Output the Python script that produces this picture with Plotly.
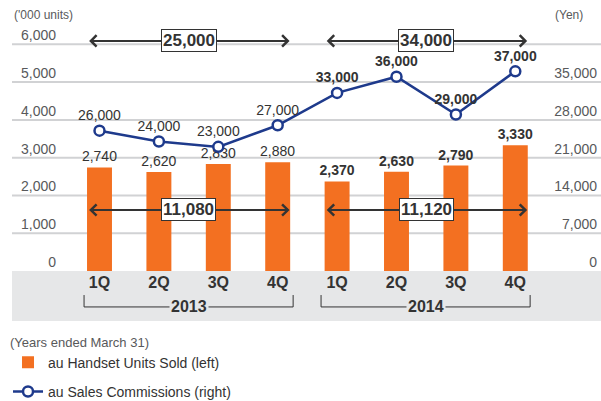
import plotly.graph_objects as go

# data
quarters = ["1Q", "2Q", "3Q", "4Q", "1Q", "2Q", "3Q", "4Q"]
years = ["2013", "2014"]
units_sold = [2740, 2620, 2830, 2880, 2370, 2630, 2790, 3330]          # '000 units
commissions = [26000, 24000, 23000, 27000, 33000, 36000, 29000, 37000]  # yen
annual_units = [11080, 11120]
annual_commissions = [25000, 34000]
left_ticks = [0, 1000, 2000, 3000, 4000, 5000, 6000]
right_ticks = [0, 7000, 14000, 21000, 28000, 35000, 42000]

ORANGE = "#F37021"
NAVY = "#1E3A8C"
FONT = "Liberation Sans"

xpos = list(range(len(quarters)))
bold_from = 4  # second year is printed bold


def fmt(vals):
    return [f"<b>{v:,}</b>" if i >= bold_from else f"{v:,}" for i, v in enumerate(vals)]


fig = go.Figure()

fig.add_trace(go.Bar(
    x=xpos, y=units_sold, name="au Handset Units Sold (left)",
    marker=dict(color=ORANGE, line=dict(width=0)), width=0.42,
    text=fmt(units_sold), textposition="outside", cliponaxis=False, constraintext="none",
    textfont=dict(family=FONT, size=14, color="#333333"),
    legendgroup="a",
))

fig.add_trace(go.Scatter(
    x=xpos, y=commissions, yaxis="y2", name="au Sales Commissions (right)",
    mode="lines+markers+text",
    line=dict(color=NAVY, width=2.5),
    marker=dict(symbol="circle", size=10, color="white", line=dict(color=NAVY, width=2.5)),
    text=fmt(commissions), textposition="top center", cliponaxis=False,
    textfont=dict(family=FONT, size=14, color="#333333"),
    legendgroup="b",
))

shapes = []
# grey band behind the category labels
shapes.append(dict(type="rect", xref="paper", yref="paper", x0=-0.0887, x1=1.0, y0=-0.21, y1=0,
                   fillcolor="#E6E7E8", line=dict(width=0), layer="below"))
# gridlines that run under the tick labels
for t in left_ticks[1:]:
    shapes.append(dict(type="line", xref="paper", yref="y", x0=-0.0887, x1=1.0, y0=t, y1=t,
                       line=dict(color="#D1D2D4", width=2), layer="below"))
# year brackets
for x0, x1 in [(-0.26, 3.26), (3.73, 7.25)]:
    shapes.append(dict(type="path", xref="x", yref="paper",
                       path=f"M {x0},-0.101 L {x0},-0.151 L {x1},-0.151 L {x1},-0.101",
                       line=dict(color="#333333", width=1)))

annotations = []
for i, yr in enumerate(years):
    annotations.append(dict(x=1.5 + 4 * i, y=-0.151, xref="x", yref="paper", text=f"<b>{yr}</b>",
                            xanchor="center", yanchor="middle",
                            showarrow=False, bgcolor="#E6E7E8", borderpad=1,
                            font=dict(family=FONT, size=16, color="#333333")))

# double arrows with annual totals
for i in range(len(years)):
    x0, x1 = -0.2 + 4 * i, 3.2 + 4 * i
    for level, val in [(6090, annual_commissions[i]), (1615, annual_units[i])]:
        annotations.append(dict(x=x1, y=level, ax=x0, ay=level, xref="x", yref="y",
                                axref="x", ayref="y", text="", showarrow=True,
                                arrowhead=4, startarrowhead=4, arrowside="end+start",
                                arrowsize=1.1, startarrowsize=1.1, arrowwidth=2,
                                arrowcolor="#333333", standoff=0, startstandoff=0))
        annotations.append(dict(x=(x0 + x1) / 2, y=level, xref="x", yref="y",
                                text=f"<b>{val:,}</b>", showarrow=False,
                                xanchor="center", yanchor="middle",
                                bgcolor="white", bordercolor="#333333", borderwidth=1, borderpad=1,
                                font=dict(family=FONT, size=17, color="#333333")))

annotations.append(dict(x=-0.0887, y=1.0756, xref="paper", yref="paper", xanchor="left",
                        yanchor="middle", text="('000 units)", showarrow=False,
                        font=dict(family=FONT, size=12, color="#58595B")))
annotations.append(dict(x=0.911, y=1.0756, xref="paper", yref="paper", xanchor="left",
                        yanchor="middle", text="(Yen)", showarrow=False,
                        font=dict(family=FONT, size=12, color="#58595B")))

fig.update_layout(
    width=601, height=401,
    margin=dict(l=60, r=0, t=33, b=130, autoexpand=False),
    paper_bgcolor="white", plot_bgcolor="rgba(0,0,0,0)",
    font=dict(family=FONT, color="#333333"),
    xaxis=dict(range=[-0.665, 8.443], tickvals=xpos, ticktext=[f"<b>{q}</b>" for q in quarters],
               showgrid=False, zeroline=False, showline=False, ticks="", automargin=False,
               tickfont=dict(family=FONT, size=16, color="#333333")),
    yaxis=dict(range=[0, 6300], tickvals=left_ticks, ticktext=[f"{t:,}" for t in left_ticks],
               showgrid=False, zeroline=False, showline=False, ticks="", automargin=False,
               ticklabelshift=-9, ticklabelstandoff=3,
               tickfont=dict(family=FONT, size=14, color="#58595B")),
    yaxis2=dict(range=[0, 44100], overlaying="y", side="right",
                tickvals=right_ticks, ticktext=[f"{t:,}" for t in right_ticks],
                showgrid=False, zeroline=False, showline=False, ticks="", automargin=False,
                ticklabelposition="inside", ticklabelshift=-9, ticklabelstandoff=1,
                tickfont=dict(family=FONT, size=14, color="#58595B")),
    shapes=shapes,
    annotations=annotations,
    showlegend=True,
    legend=dict(x=-0.0961, y=-0.247, xanchor="left", yanchor="top", orientation="v",
                traceorder="grouped", tracegroupgap=8, bgcolor="rgba(0,0,0,0)",
                title=dict(text="(Years ended March 31)", font=dict(family=FONT, size=13, color="#58595B")),
                font=dict(family=FONT, size=14, color="#333333")),
)

# the page body has a default 8px margin; drop it so the figure sits at the corner
fig.write_html("out.html", config={"displayModeBar": False},
               post_script="document.body.style.margin='0';")
